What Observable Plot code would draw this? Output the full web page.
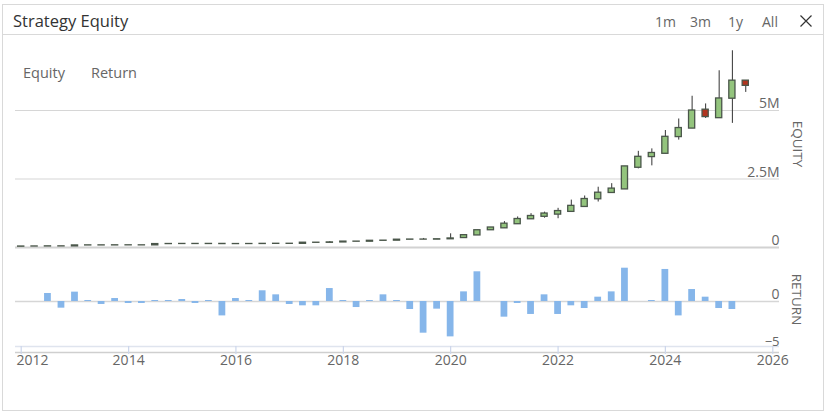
<!DOCTYPE html>
<html><head><meta charset="utf-8">
<script src="https://cdn.jsdelivr.net/npm/d3@7"></script>
<script src="https://cdn.jsdelivr.net/npm/@observablehq/plot@0.6"></script>
<style>
body{margin:0;background:#fff;font-family:"Open Sans",sans-serif;}
#wrap{position:relative;width:830px;height:416px;overflow:hidden;background:#fff;}
.abs{position:absolute;white-space:nowrap;line-height:20px;}
.ctl{font-size:14px;color:#666;top:12px;}
.leg{font-size:14.5px;color:#666;top:63px;}
#eq,#ret{position:absolute;left:0;}
#eq{top:40px;} #ret{top:255px;}
svg{overflow:visible;}
</style></head><body>
<div id="wrap">
  <div class="abs" style="left:2px;top:4px;width:822px;height:407px;border:1px solid #d9d9d9;box-sizing:border-box;"></div>
  <div class="abs" style="left:2px;top:34px;width:822px;height:1px;background:#d9d9d9;"></div>
  <div class="abs" style="left:13px;top:11px;font-size:16.5px;color:#333;">Strategy Equity</div>
  <div class="abs ctl" style="left:655px;">1m</div>
  <div class="abs ctl" style="left:690px;">3m</div>
  <div class="abs ctl" style="left:728px;">1y</div>
  <div class="abs ctl" style="left:762px;">All</div>
  <svg class="abs" style="left:800px;top:15px;" width="12" height="12"><path d="M0.5,0.5L11.5,11.5M11.5,0.5L0.5,11.5" stroke="#333" stroke-width="1.2" fill="none"/></svg>
  <div class="abs leg" style="left:23px;">Equity</div>
  <div class="abs leg" style="left:91px;">Return</div>
  <div id="eq"></div>
  <div id="ret"></div>
</div>
<script>
// Quarter start dates
const quarters = [
 "2012-01-01","2012-04-01","2012-07-01","2012-10-01",
 "2013-01-01","2013-04-01","2013-07-01","2013-10-01",
 "2014-01-01","2014-04-01","2014-07-01","2014-10-01",
 "2015-01-01","2015-04-01","2015-07-01","2015-10-01",
 "2016-01-01","2016-04-01","2016-07-01","2016-10-01",
 "2017-01-01","2017-04-01","2017-07-01","2017-10-01",
 "2018-01-01","2018-04-01","2018-07-01","2018-10-01",
 "2019-01-01","2019-04-01","2019-07-01","2019-10-01",
 "2020-01-01","2020-04-01","2020-07-01","2020-10-01",
 "2021-01-01","2021-04-01","2021-07-01","2021-10-01",
 "2022-01-01","2022-04-01","2022-07-01","2022-10-01",
 "2023-01-01","2023-04-01","2023-07-01","2023-10-01",
 "2024-01-01","2024-04-01","2024-07-01","2024-10-01",
 "2025-01-01","2025-04-01","2025-07-01"];
// Equity OHLC, in millions
const equityOpen = [
 .030,.036,.038,.042, .040,.075,.078,.076, .080,.079,.078,.125, .128,.130,.128,.131,
 .125,.127,.128,.133, .136,.134,.175,.172, .185,.215,.212,.245, .250,.285,.290,.288,
 .300,.345,.440,.630, .700,.850,1.030,1.120, 1.200,1.300,1.480,1.760, 1.990,2.120,2.910,3.300,
 3.420,4.030,4.340,5.030, 4.720,5.430,6.090];
const equityClose = [
 .036,.038,.042,.040, .075,.078,.076,.080, .079,.078,.125,.128, .130,.128,.131,.125,
 .127,.128,.133,.136, .134,.175,.172,.185, .215,.212,.245,.250, .285,.290,.288,.300,
 .330,.450,.630,.730, .870,1.040,1.150,1.240, 1.330,1.520,1.770,2.000, 2.150,2.960,3.310,3.450,
 4.040,4.360,5.000,4.760, 5.440,6.090,5.900];
const equityHigh = [
 .036,.038,.042,.042, .075,.078,.078,.080, .080,.079,.125,.128, .130,.130,.131,.131,
 .127,.128,.133,.136, .136,.175,.175,.215, .215,.215,.245,.250, .285,.290,.330,.300,
 .500,.460,.630,.730, .945,1.115,1.235,1.290, 1.430,1.730,1.880,2.200, 2.330,2.960,3.510,3.600,
 4.270,4.690,5.520,5.240, 6.450,7.180,6.090];
const equityLow = [
 .030,.036,.038,.040, .040,.075,.076,.076, .079,.078,.078,.125, .128,.128,.128,.125,
 .125,.127,.128,.133, .134,.134,.172,.172, .185,.212,.212,.245, .250,.285,.288,.288,
 .300,.340,.440,.630, .700,.850,1.030,1.070, 1.050,1.300,1.480,1.660, 1.990,2.120,2.870,2.980,
 3.420,3.920,4.340,4.710, 4.720,4.530,5.660];
// Quarterly return
const returns = [
 0,0,0.89,-0.74, 1.04,0.11,-0.33,0.33, -0.22,-0.22,0.11,0.11, 0.22,-0.22,0.11,-1.6,
 0.33,0.11,1.19,0.74, -0.33,-0.48,-0.48,1.44, 0.11,-0.67,0.11,0.74, 0.11,-0.89,-3.52,-0.85,
 -3.93,1.07,3.3,0, -1.74,-0.22,-1.44,0.74, -1.44,-0.48,-0.78,0.48, 1.07,3.7,0,0.11,
 3.56,-1.6,1.33,0.48, -0.78,-0.89,0];
// Axis ticks
const yearTicks = ["2012","2014","2016","2018","2020","2022","2024","2026"];
const equityTicks = [0, 2.5, 5];
const equityTickLabels = ["0", "2.5M", "5M"];
const returnTicks = [0, -5];
const returnTickLabels = ["0", "\u22125"];

const candles = quarters.map((q, i) => ({
  date: new Date(q), open: equityOpen[i], close: equityClose[i],
  high: equityHigh[i], low: equityLow[i]
}));
const rets = quarters.map((q, i) => ({date: new Date(q), value: returns[i]})).filter(d => d.value !== 0);
const years = yearTicks.map(y => new Date(y + "-01-01"));

const DAY = 86400000;
const xScale = {type: "utc", domain: [new Date("2012-01-01"), new Date("2026-01-01")], range: [20.7, 772.3]};
const font = "Open Sans, sans-serif";
const labelColor = "#666";

const green = "#93c47d", red = "#b0341f", edge = "#4a564a";

const eq = Plot.plot({
  width: 830, height: 210,
  marginLeft: 15, marginRight: 51, marginTop: 0, marginBottom: 3,
  style: {fontFamily: font, background: "transparent"},
  x: {...xScale, axis: null},
  y: {domain: [0, 7.555], axis: null},
  marks: [
    Plot.ruleY(equityTicks, {stroke: (d) => d === 0 ? "#d2d2d2" : "#d6d6d6", strokeWidth: (d) => d === 0 ? 2 : 1.2}),
    Plot.text(equityTicks, {y: d => d, text: (d, i) => equityTickLabels[i], frameAnchor: "right", textAnchor: "end", dy: -6.5, fill: labelColor, fontSize: 14}),
    Plot.text(["EQUITY"], {frameAnchor: "right", textAnchor: "middle", dx: 17.5, rotate: 90, fill: labelColor, fontSize: 13.5}),
    Plot.ruleX(candles, {x: "date", y1: "low", y2: "high", stroke: "#333", strokeWidth: 1}),
    Plot.rect(candles.filter(d => d.close >= d.open), {
      x1: d => new Date(+d.date - 21 * DAY), x2: d => new Date(+d.date + 21 * DAY),
      y1: "open", y2: "close", fill: green, stroke: edge, strokeWidth: 1.3}),
    Plot.rect(candles.filter(d => d.close < d.open), {
      x1: d => new Date(+d.date - 21 * DAY), x2: d => new Date(+d.date + 21 * DAY),
      y1: "open", y2: "close", fill: red, stroke: edge, strokeWidth: 1.3})
  ]
});
document.getElementById("eq").appendChild(eq);

const ret = Plot.plot({
  width: 830, height: 125,
  marginLeft: 15, marginRight: 51, marginTop: 1, marginBottom: 34,
  style: {fontFamily: font, background: "transparent"},
  x: {...xScale, axis: null},
  y: {domain: [-5, 5], axis: null},
  marks: [
    Plot.ruleY([0], {stroke: "#d6d6d6", strokeWidth: 1.5}),
    Plot.ruleY([-5], {stroke: "#dfe4ee", strokeWidth: 1.5}),
    Plot.ruleY([-5], {dy: 6, stroke: "#cfcfcf", strokeWidth: 1.5}),
    Plot.ruleX(years, {x: d => d, y1: -5, y2: -5, insetBottom: -8, stroke: "#ccd6eb", strokeWidth: 1.2}),
    Plot.text(years.slice(0, 1), {x: d => d, text: (d, i) => yearTicks[0], frameAnchor: "bottom", dy: 18.5, dx: -4.7, textAnchor: "start", fill: labelColor, fontSize: 14}),
    Plot.text(years.slice(1), {x: d => d, text: (d, i) => yearTicks[i + 1], frameAnchor: "bottom", dy: 18.5, fill: labelColor, fontSize: 14}),
    Plot.text(returnTicks.slice(0, 1), {y: d => d, text: (d, i) => returnTickLabels[0], frameAnchor: "right", textAnchor: "end", dy: -6.8, fill: labelColor, fontSize: 14}),
    Plot.text(returnTicks.slice(1), {y: d => d, text: (d, i) => returnTickLabels[1], frameAnchor: "right", textAnchor: "end", dy: -5, fill: labelColor, fontSize: 13}),
    Plot.text(["RETURN"], {frameAnchor: "right", textAnchor: "middle", dx: 17, dy: -2, rotate: 90, fill: labelColor, fontSize: 13.5}),
    Plot.rect(rets, {
      x1: d => new Date(+d.date - 23 * DAY), x2: d => new Date(+d.date + 23 * DAY),
      y1: 0, y2: "value", fill: "#86b6ea"})
  ]
});
document.getElementById("ret").appendChild(ret);
</script>
</body></html>
